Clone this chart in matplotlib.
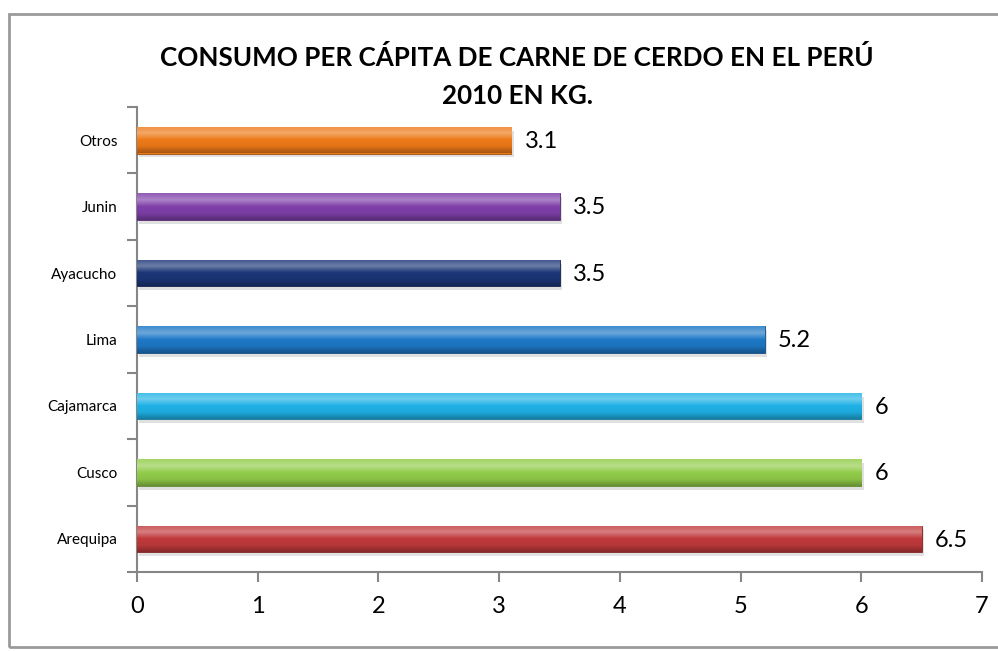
import matplotlib
matplotlib.use("Agg")
import matplotlib.pyplot as plt
from matplotlib.colors import LinearSegmentedColormap, to_rgb
from matplotlib.patches import Rectangle
import numpy as np

# datos (de abajo hacia arriba)
regiones = ["Arequipa", "Cusco", "Cajamarca", "Lima", "Ayacucho", "Junin", "Otros"]
consumo = [6.5, 6, 6, 5.2, 3.5, 3.5, 3.1]
colores = ["#C0393B", "#92CC4A", "#1FB2E6", "#1E78C6", "#1B3677", "#7F40AA", "#EE7A18"]
etiquetas = ["6.5", "6", "6", "5.2", "3.5", "3.5", "3.1"]
xticks = [0, 1, 2, 3, 4, 5, 6, 7]

plt.rcParams['font.family'] = ['Lato', 'DejaVu Sans']

fig = plt.figure(figsize=(9.98, 6.51), dpi=100)
fig.patch.set_facecolor("white")

# marco del grafico
fig.patches.append(Rectangle((9 / 998, 4 / 651), 1.2, 633 / 651, transform=fig.transFigure,
                             fill=False, edgecolor="#9a9a9a", linewidth=2))

ax = fig.add_axes([137 / 998, 1 - 572 / 651, (982 - 137) / 998, (572 - 107) / 651])

y = np.arange(len(regiones))
bars = ax.barh(y, consumo, height=0.4, color=colores, zorder=3)


def shade(c, f):
    r = np.array(to_rgb(c))
    if f > 0:
        return tuple(r + (1 - r) * f)
    return tuple(r * (1 + f))


for b, c in zip(bars, colores):
    x0, y0, w, h = b.get_x(), b.get_y(), b.get_width(), b.get_height()
    # sombra
    ax.add_patch(Rectangle((x0 + 0.02, y0 - 0.06), w, h, color="#000000", alpha=0.12,
                           zorder=2, linewidth=0))
    cmap = LinearSegmentedColormap.from_list(
        "g", [shade(c, -0.3), shade(c, -0.05), c, shade(c, 0.35), shade(c, 0.15)])
    grad = np.linspace(0, 1, 64).reshape(-1, 1)
    im = ax.imshow(grad, extent=[x0, x0 + w, y0, y0 + h], origin="lower", aspect="auto",
                   cmap=cmap, zorder=4)
    im.set_clip_path(b)
    b.set_edgecolor(shade(c, -0.35))
    b.set_linewidth(0.6)

for yi, v, t in zip(y, consumo, etiquetas):
    ax.text(v + 0.11, yi - 0.02, t, va="center", ha="left", fontsize=17, color="black")

ax.set_xlim(0, 7)
ax.set_ylim(-0.5, len(regiones) - 0.5)
ax.set_xticks(xticks)
ax.set_xticklabels([str(t) for t in xticks], fontsize=17)
ax.set_yticks(y)
ax.set_yticklabels(regiones, fontsize=11)
ax.set_yticks(np.arange(-0.5, len(regiones)), minor=True)
ax.tick_params(axis="y", which="major", length=0, pad=14)
ax.tick_params(axis="y", which="minor", length=7, color="#868686", width=1.5)
ax.tick_params(axis="x", length=7, color="#868686", width=1.5, pad=10)

for s in ["top", "right"]:
    ax.spines[s].set_visible(False)
for s in ["left", "bottom"]:
    ax.spines[s].set_color("#868686")
    ax.spines[s].set_linewidth(1.5)
ax.set_facecolor("none")

fig.text(517 / 998, 1 - 57 / 651, "CONSUMO PER CÁPITA DE CARNE DE CERDO EN EL PERÚ",
         ha="center", va="center", fontsize=18.7, fontweight="bold")
fig.text(517 / 998, 1 - 96 / 651, "2010 EN KG.",
         ha="center", va="center", fontsize=18.7, fontweight="bold")

fig.savefig("out.png", dpi=100)
